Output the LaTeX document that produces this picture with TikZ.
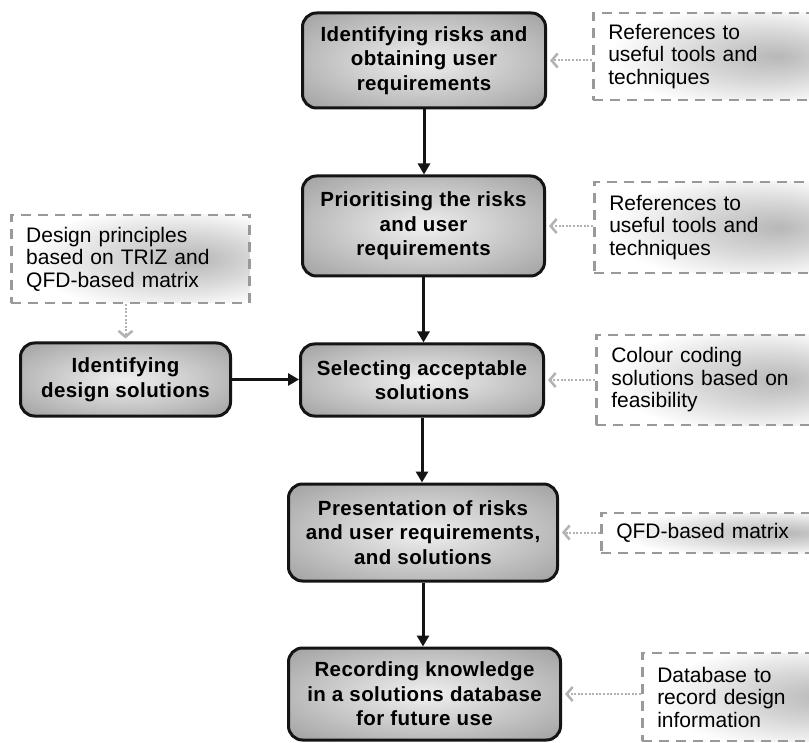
\documentclass[tikz,border=0pt]{standalone}
\usepackage{fontspec}
\setmainfont{Liberation Sans}
\newfontfamily\boxfont[LetterSpace=2]{Liberation Sans}
\newfontfamily\reffont[LetterSpace=0]{Liberation Sans}
\usetikzlibrary{arrows.meta}
\pgfdeclareradialshading{boxglow}{\pgfpoint{0bp}{0bp}}{color(0bp)=(black!6); color(22bp)=(black!25); color(50bp)=(black!50); color(72bp)=(black!58)}
\pgfdeclareradialshading{smudge}{\pgfpoint{14bp}{0bp}}{color(0bp)=(black!28); color(14bp)=(black!16); color(30bp)=(white); color(72bp)=(white)}
\tikzset{
  mainbox/.style={draw=black!92, line width=3pt, rounded corners=14pt, shading=boxglow,
    align=center, inner sep=4pt, text=black,
    font={\boxfont\bfseries\fontsize{20.5}{24.5}\selectfont}},
  refbox/.style={draw=black!40, line width=2.5pt, dash pattern=on 10pt off 7pt,
    shading=smudge, align=left, anchor=west, inner xsep=15pt, inner ysep=3pt,
    text=black, font={\reffont\fontsize{21}{22.5}\selectfont}},
  flow/.style={draw=black!92, line width=3pt, -{Triangle[length=11pt,width=12pt]}},
  hint/.style={draw=black!30, line width=2pt, dash pattern=on 2pt off 1.6pt,
    -{Straight Barb[length=6pt,width=14pt,line width=2.5pt]}, shorten >=3pt}
}
\begin{document}
\begin{tikzpicture}[x=1pt, y=-1pt]
\path[use as bounding box] (0,0) rectangle (809,743);
\clip (0,0) rectangle (809,743);
\fill[white] (0,0) rectangle (809,743);

% main process boxes
\node[mainbox, minimum width=243pt, minimum height=95pt] (B1) at (424,60.5)
  {Identifying risks and\\obtaining user\\requirements};
\node[mainbox, minimum width=242pt, minimum height=100pt] (B2) at (423.5,226)
  {Prioritising the risks\\and user\\requirements};
\node[mainbox, minimum width=243pt, minimum height=72pt] (B3) at (422,380)
  {Selecting acceptable\\solutions};
\node[mainbox, minimum width=269pt, minimum height=97pt] (B4) at (423,532.5)
  {Presentation of risks\\and user requirements,\\and solutions};
\node[mainbox, minimum width=272pt, minimum height=92pt] (B5) at (424.5,694)
  {Recording knowledge\\in a solutions database\\for future use};
\node[mainbox, minimum width=210pt, minimum height=73pt] (BL) at (125.5,379.5)
  {Identifying\\design solutions};

% reference (dashed) boxes
\node[refbox, text width=208pt, minimum height=87pt] (R1) at (592,56.5)
  {References to\\useful tools and\\techniques};
\node[refbox, text width=208pt, minimum height=91pt] (R2) at (593,227.5)
  {References to\\useful tools and\\techniques};
\node[refbox, text width=208pt, minimum height=90pt] (R3) at (595,380)
  {Colour coding\\solutions based on\\feasibility};
\node[refbox, text width=208pt, minimum height=40pt] (R4) at (600,533)
  {QFD-based matrix};
\node[refbox, text width=208pt, minimum height=88pt] (R5) at (641,697)
  {Database to\\record design\\information};
\node[refbox, text width=208pt, minimum height=88pt, minimum width=238pt] (DP) at (10,259)
  {Design principles\\based on TRIZ and\\QFD-based matrix};

% main flow
\draw[flow] (B1.south) -- (B1.south |- B2.north);
\draw[flow] (B2.south) -- (B2.south |- B3.north);
\draw[flow] (B3.south) -- (B3.south |- B4.north);
\draw[flow] (B4.south) -- (B4.south |- B5.north);
\draw[flow] (BL.east) -- (BL.east -| B3.west);

% dotted hints
\draw[hint] (B1.east -| R1.west) -- (B1.east);
\draw[hint] (B2.east -| R2.west) -- (B2.east);
\draw[hint] (B3.east -| R3.west) -- (B3.east);
\draw[hint] (B4.east -| R4.west) -- (B4.east);
\draw[hint] (B5.east -| R5.west) -- (B5.east);
\draw[hint] (BL.north |- DP.south) -- (BL.north);
\end{tikzpicture}
\end{document}
